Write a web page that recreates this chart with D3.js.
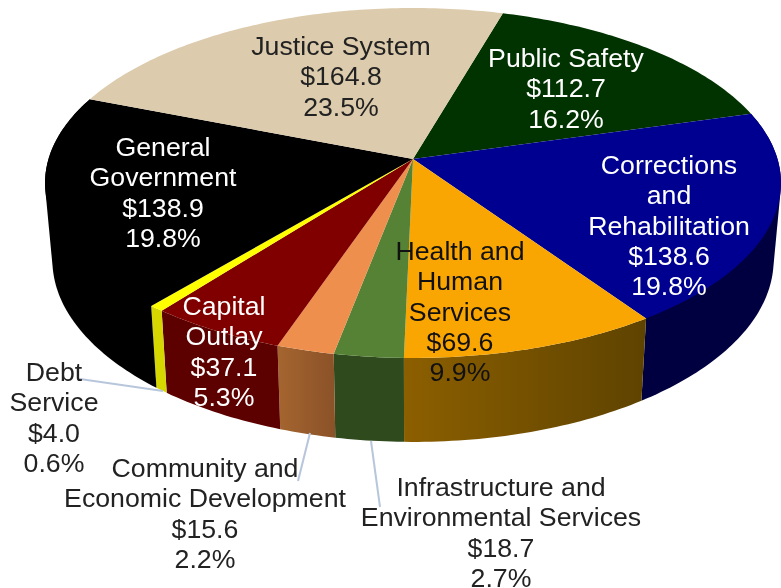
<!DOCTYPE html>
<html>
<head>
<meta charset="utf-8">
<script src="https://cdn.jsdelivr.net/npm/d3@7/dist/d3.min.js"></script>
<style>
  html, body { margin: 0; padding: 0; background: #fff; overflow: hidden; }
  svg { display: block; filter: blur(0.5px); }
  text { font-family: "Liberation Sans", Arial, sans-serif; font-size: 26.7px; text-anchor: middle; }
</style>
</head>
<body>
<svg width="781" height="588"></svg>
<script>
// clockwise from the Justice / Public Safety edge
const categories = [
  ["Public Safety"],
  ["Corrections", "and", "Rehabilitation"],
  ["Health and", "Human", "Services"],
  ["Infrastructure and", "Environmental Services"],
  ["Community and", "Economic Development"],
  ["Capital", "Outlay"],
  ["Debt", "Service"],
  ["General", "Government"],
  ["Justice System"]
];
const values = [112.7, 138.6, 69.6, 18.7, 15.6, 37.1, 4.0, 138.9, 164.8];
const percents = ["16.2%", "19.8%", "9.9%", "2.7%", "2.2%", "5.3%", "0.6%", "19.8%", "23.5%"];

const topColors = ["#003300", "#000090", "#f9a602", "#568235", "#ee8f4e", "#800000", "#ffff00", "#000000", "#dccbac"];
const sideColors = [
  ["#001a00", "#001a00"], ["#000040", "#000040"], ["#8c5f00", "#5e4300"],
  ["#2f4a1c", "#2f4a1c"], ["#a5652f", "#8a5228"], ["#5c0000", "#5c0000"],
  ["#d6d600", "#d6d600"], ["#000000", "#000000"], ["#6e6556", "#6e6556"]
];
const textColors = ["#fff", "#fff", "#111", "#222", "#222", "#fff", "#222", "#fff", "#222"];

// label anchor (centre x, first baseline) for each slice
const labelPos = [[566, 67], [669, 174], [460, 260], [501, 496], [205, 477], [224, 315], [54, 381], [163, 156], [341, 55]];
const lineGap = 30.3;

// leader lines: [from, to] for the small slices
const leaders = [[[80, 379], [163, 391]], [[310, 433], [298, 481]], [[371, 441], [380, 507]]];

const cx = 413, cy = 159;
const a = 364.5, b = 171.7, k = 0.137; // tilted disc
const depthY = 76, bottomSx = 0.98, bottomSy = 1.04;

function rim(t) {
  const u = Math.sin(t), v = Math.cos(t);
  const w = 1 + k * v;
  return [a * u / w, -b * v / w];
}
const topPt = (t) => { const p = rim(t); return [cx + p[0], cy + p[1]]; };
const botPt = (t) => { const p = rim(t); return [cx + p[0] * bottomSx, cy + p[1] * bottomSy + depthY]; };

const svg = d3.select("svg");
const defs = svg.append("defs");
const line = d3.line();

const start = 16.2 * Math.PI / 180;
const arcs = d3.pie().sort(null).startAngle(start).endAngle(start + 2 * Math.PI)(values);

function samples(d) {
  const n = Math.max(4, Math.ceil((d.endAngle - d.startAngle) * 60));
  return d3.range(n + 1).map((i) => d.startAngle + (d.endAngle - d.startAngle) * i / n);
}

arcs.forEach((d, i) => {
  const g = defs.append("linearGradient").attr("id", "side" + i);
  g.append("stop").attr("offset", 0).attr("stop-color", sideColors[i][0]);
  g.append("stop").attr("offset", 1).attr("stop-color", sideColors[i][1]);
});

// walls first, then the top
// the two big side slices use a hull so the outline runs straight down from the widest point
const hullSlices = [1, 7];
const walls = svg.append("g");
arcs.filter((d) => Math.cos((d.startAngle + d.endAngle) / 2) < 0.3).forEach((d) => {
  const ts = samples(d);
  let pts = ts.map(topPt).concat(ts.slice().reverse().map(botPt));
  if (hullSlices.includes(d.index)) pts = d3.polygonHull(pts);
  walls.append("path")
    .attr("d", line(pts) + "Z")
    .attr("fill", `url(#side${d.index})`);
});

svg.append("g")
  .selectAll("path")
  .data(arcs)
  .join("path")
  .attr("d", (d) => line([[cx, cy]].concat(samples(d).map(topPt))) + "Z")
  .attr("fill", (d) => topColors[d.index]);

svg.append("g")
  .selectAll("line")
  .data(leaders)
  .join("line")
  .attr("x1", (d) => d[0][0])
  .attr("y1", (d) => d[0][1])
  .attr("x2", (d) => d[1][0])
  .attr("y2", (d) => d[1][1])
  .attr("stroke", "#b8c6dc")
  .attr("stroke-width", 2);

const labels = svg.append("g")
  .selectAll("text")
  .data(arcs)
  .join("text")
  .attr("fill", (d) => textColors[d.index])
  .attr("x", (d) => labelPos[d.index][0])
  .attr("y", (d) => labelPos[d.index][1]);

labels.each(function (d) {
  const rows = categories[d.index].concat(["$" + d.value.toFixed(1), percents[d.index]]);
  d3.select(this)
    .selectAll("tspan")
    .data(rows)
    .join("tspan")
    .attr("x", labelPos[d.index][0])
    .attr("y", (_, j) => labelPos[d.index][1] + j * lineGap)
    .text((r) => r);
});
</script>
</body>
</html>
